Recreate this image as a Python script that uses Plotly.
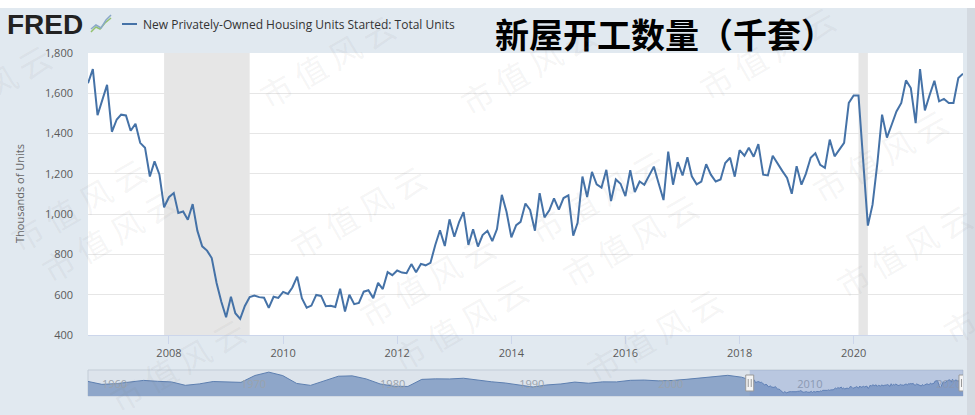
"""FRED housing starts chart, monthly, Aug 2006 - Dec 2021."""

import pandas as pd
import plotly.graph_objects as go

# New privately-owned housing units started, thousands of units (SAAR)
starts_2006 = [1650, 1720, 1491, 1568, 1642]  # Aug-Dec
starts_2007 = [1409, 1470, 1494, 1490, 1414, 1449, 1354, 1330, 1187, 1262, 1197, 1034]
starts_2008 = [1084, 1105, 1006, 1013, 972, 1050, 918, 840, 819, 782, 658, 566]
starts_2009 = [488, 590, 508, 480, 544, 588, 596, 588, 585, 535, 590, 584]
starts_2010 = [614, 604, 636, 690, 583, 536, 546, 599, 594, 543, 545, 539]
starts_2011 = [630, 517, 600, 553, 559, 615, 622, 583, 659, 628, 712, 697]
starts_2012 = [720, 710, 707, 752, 711, 753, 746, 758, 847, 920, 842, 974]
starts_2013 = [888, 962, 1010, 847, 925, 839, 896, 917, 866, 926, 1096, 1012]
starts_2014 = [885, 945, 962, 1053, 1021, 918, 1104, 984, 1019, 1078, 1022, 1080]
starts_2015 = [1093, 893, 957, 1187, 1085, 1210, 1148, 1132, 1220, 1065, 1172, 1151]
starts_2016 = [1090, 1218, 1110, 1162, 1146, 1195, 1236, 1152, 1070, 1310, 1146, 1258]
starts_2017 = [1192, 1282, 1188, 1148, 1162, 1248, 1196, 1162, 1172, 1254, 1280, 1186]
starts_2018 = [1318, 1290, 1330, 1285, 1348, 1196, 1192, 1290, 1250, 1215, 1180, 1101]
starts_2019 = [1238, 1146, 1200, 1280, 1302, 1245, 1230, 1370, 1287, 1320, 1354, 1552]
starts_2020 = [1589, 1589, 1275, 943, 1047, 1255, 1494, 1380, 1445, 1510, 1552, 1664]
starts_2021 = [1626, 1452, 1720, 1515, 1590, 1662, 1560, 1572, 1552, 1552, 1676, 1697]

recession_starts = ["2007-12-01", "2020-02-01"]
recession_ends = ["2009-06-01", "2020-04-01"]

# navigator: annual level of the full history before the zoomed window
nav_years = [1959, 1960, 1961, 1962, 1963, 1964, 1965, 1966, 1967, 1968,
             1969, 1970, 1971, 1972, 1973, 1974, 1975, 1976, 1977, 1978,
             1979, 1980, 1981, 1982, 1983, 1984, 1985, 1986, 1987, 1988,
             1989, 1990, 1991, 1992, 1993, 1994, 1995, 1996, 1997, 1998,
             1999, 2000, 2001, 2002, 2003, 2004, 2005, 2006]
nav_values = [1517, 1252, 1313, 1463, 1610, 1529, 1473, 1165, 1292, 1508,
              1467, 1434, 2052, 2357, 2045, 1338, 1160, 1538, 1987, 2020,
              1745, 1292, 1084, 1062, 1703, 1750, 1742, 1805, 1621, 1488,
              1376, 1193, 1014, 1200, 1288, 1457, 1354, 1477, 1474, 1617,
              1641, 1569, 1603, 1705, 1848, 1956, 2068, 1900]

LINE = "#4572a7"
BG = "#e1e9f0"
TICK = "#5a5a5a"

starts = (starts_2006 + starts_2007 + starts_2008 + starts_2009 + starts_2010
          + starts_2011 + starts_2012 + starts_2013 + starts_2014 + starts_2015
          + starts_2016 + starts_2017 + starts_2018 + starts_2019 + starts_2020
          + starts_2021)
dates = pd.date_range("2006-08-01", periods=len(starts), freq="MS")

nav_x = list(pd.to_datetime([f"{y}-01-01" for y in nav_years])) + list(dates)
nav_y = nav_values + starts

# pixel -> paper helpers for the header decorations
L, R, T, B = 88, 963, 53, 396


def px(x):
    return (x - L) / (R - L)


def py(y):
    return (B - y) / (B - T)


fig = go.Figure()
fig.add_trace(go.Scatter(x=dates, y=starts, mode="lines",
                         line={"color": LINE, "width": 2},
                         xaxis="x", yaxis="y", showlegend=False))
fig.add_trace(go.Scatter(x=nav_x, y=nav_y, mode="lines", fill="tozeroy",
                         fillcolor="#8ea6c9", line={"color": "#5d7fb0", "width": 1},
                         xaxis="x2", yaxis="y2", showlegend=False))

shapes = [
    # white plotting area of main chart
    {"type": "rect", "xref": "x domain", "yref": "y domain", "x0": 0, "x1": 1,
     "y0": 0, "y1": 1, "fillcolor": "#ffffff", "line": {"width": 0}, "layer": "below"},
]
for s, e in zip(recession_starts, recession_ends):
    shapes.append({"type": "rect", "xref": "x", "yref": "y domain", "x0": s, "x1": e,
                   "y0": 0, "y1": 1, "fillcolor": "#e6e6e6",
                   "line": {"width": 0}, "layer": "below"})

# navigator box, selection mask and handles
shapes.append({"type": "rect", "xref": "x2 domain", "yref": "y2 domain", "x0": 0, "x1": 1,
               "y0": 0, "y1": 1, "fillcolor": "#dde4ec",
               "line": {"color": "#c3ccd7", "width": 1}, "layer": "below"})
shapes.append({"type": "rect", "xref": "x2", "yref": "y2 domain",
               "x0": dates[0], "x1": dates[-1], "y0": 0, "y1": 1,
               "fillcolor": "rgba(102,133,194,0.3)", "line": {"width": 0}, "layer": "above"})
for d in (dates[0], dates[-1]):
    shapes.append({"type": "rect", "xref": "x2", "yref": "y2", "xsizemode": "pixel",
                   "ysizemode": "pixel", "xanchor": d, "yanchor": 1375,
                   "x0": -4, "x1": 4, "y0": -8, "y1": 8, "fillcolor": "#f4f4f4",
                   "line": {"color": "#999999", "width": 1}, "layer": "above"})
    for dx in (-1.5, 1.5):
        shapes.append({"type": "line", "xref": "x2", "yref": "y2", "xsizemode": "pixel",
                       "ysizemode": "pixel", "xanchor": d, "yanchor": 1375,
                       "x0": dx, "x1": dx, "y0": -4, "y1": 4,
                       "line": {"color": "#999999", "width": 1}, "layer": "above"})

# top white band and right shadow strip of the screenshot
shapes.append({"type": "rect", "xref": "paper", "yref": "paper", "x0": px(0), "x1": px(975),
               "y0": py(8), "y1": py(-2), "fillcolor": "#ffffff", "line": {"width": 0}})
shapes.append({"type": "rect", "xref": "paper", "yref": "paper", "x0": px(967), "x1": px(976),
               "y0": py(417), "y1": py(8), "fillcolor": "#d4dae1", "line": {"width": 0}})

# legend swatch
shapes.append({"type": "line", "xref": "paper", "yref": "paper", "x0": px(122), "x1": px(137),
               "y0": py(24), "y1": py(24), "line": {"color": LINE, "width": 2}})


# FRED logo graph icon
def poly(points):
    return "M " + " L ".join(f"{px(x):.4f},{py(y):.4f}" for x, y in points)


shapes.append({"type": "path", "xref": "paper", "yref": "paper",
               "path": poly([(91, 32), (96, 27), (100, 29), (105, 23), (111, 18)]),
               "line": {"color": "#93c26e", "width": 1.5}})
shapes.append({"type": "path", "xref": "paper", "yref": "paper",
               "path": poly([(91, 29), (96, 25), (101, 28), (106, 20), (111, 15)]),
               "line": {"color": "#8aa8c8", "width": 1.5}})

annotations = [
    {"x": px(5), "y": py(24), "xref": "paper", "yref": "paper", "xanchor": "left",
     "yanchor": "middle", "showarrow": False, "text": "<b>FRED</b>",
     "font": {"family": "Liberation Sans", "size": 28, "color": "#222222"}},
    {"x": px(141), "y": py(24), "xref": "paper", "yref": "paper", "xanchor": "left",
     "yanchor": "middle", "showarrow": False,
     "text": "New Privately-Owned Housing Units Started: Total Units",
     "font": {"family": "Open Sans", "size": 12, "color": "#333333"}},
    {"x": px(493), "y": py(33), "xref": "paper", "yref": "paper", "xanchor": "left",
     "yanchor": "middle", "showarrow": False, "text": "<b>新屋开工数量（千套）</b>",
     "font": {"family": "Noto Sans CJK SC", "size": 34, "color": "#000000"}},
    {"x": px(19), "y": py(194), "xref": "paper", "yref": "paper", "xanchor": "center",
     "yanchor": "middle", "showarrow": False, "textangle": -90,
     "text": "Thousands of Units",
     "font": {"family": "Open Sans", "size": 11, "color": "#666666"}},
]

# tiled watermark of the source screenshot
row_offsets = [190, 215, 166, 161, 207, 150, 190]
for k, off in enumerate(row_offsets):
    v = 124 + 146 * (k - 1)
    for j in range(-3, 5):
        u = off + 288 * j
        cx = 0.866 * u + 0.5 * v
        cy = -0.5 * u + 0.866 * v
        if -120 < cx < 1100 and -60 < cy < 480:
            annotations.append({"x": px(cx), "y": py(cy), "xref": "paper", "yref": "paper",
                                "showarrow": False, "textangle": -30,
                                "text": "市 值 风 云",
                                "font": {"family": "Noto Sans CJK SC", "size": 32,
                                         "color": "rgba(120,120,120,0.08)"}})

fig.update_layout(
    width=975,
    height=415,
    margin={"l": L, "r": 975 - R, "t": T, "b": 415 - B, "autoexpand": False},
    paper_bgcolor=BG,
    plot_bgcolor=BG,
    font={"family": "Open Sans", "color": TICK},
    shapes=shapes,
    annotations=annotations,
    xaxis={
        "domain": [0, 1], "anchor": "y", "type": "date",
        "range": [dates[0], dates[-1]],
        "tick0": "2008-01-01", "dtick": "M24", "tickformat": "%Y",
        "ticks": "outside", "ticklen": 8, "tickcolor": "#ccd6eb",
        "showline": True, "linecolor": "#ccd6eb", "showgrid": False,
        "tickfont": {"size": 11, "color": TICK},
    },
    yaxis={
        "domain": [(B - 335) / (B - T), 1], "anchor": "x",
        "range": [400, 1800], "dtick": 200, "tickformat": ",",
        "gridcolor": "#e6e6e6", "zeroline": False, "showline": False,
        "ticklabelstandoff": 14, "tickfont": {"size": 11, "color": TICK},
    },
    xaxis2={
        "domain": [0, 1], "anchor": "y2", "type": "date",
        "range": ["1959-01-01", dates[-1]],
        "tick0": "1960-01-01", "dtick": "M120", "tickformat": "%Y",
        "ticklabelposition": "inside right", "showgrid": False, "showline": False,
        "tickfont": {"size": 11, "color": "#9aa3ad"},
    },
    yaxis2={
        "domain": [0, (B - 370) / (B - T)], "anchor": "x2",
        "range": [200, 2550], "visible": False,
    },
)

# drop the page's default body margin so the chart sits at the window's corner
fig.write_html("out.html", config={"displayModeBar": False},
               post_script="document.body.style.margin='0';")
